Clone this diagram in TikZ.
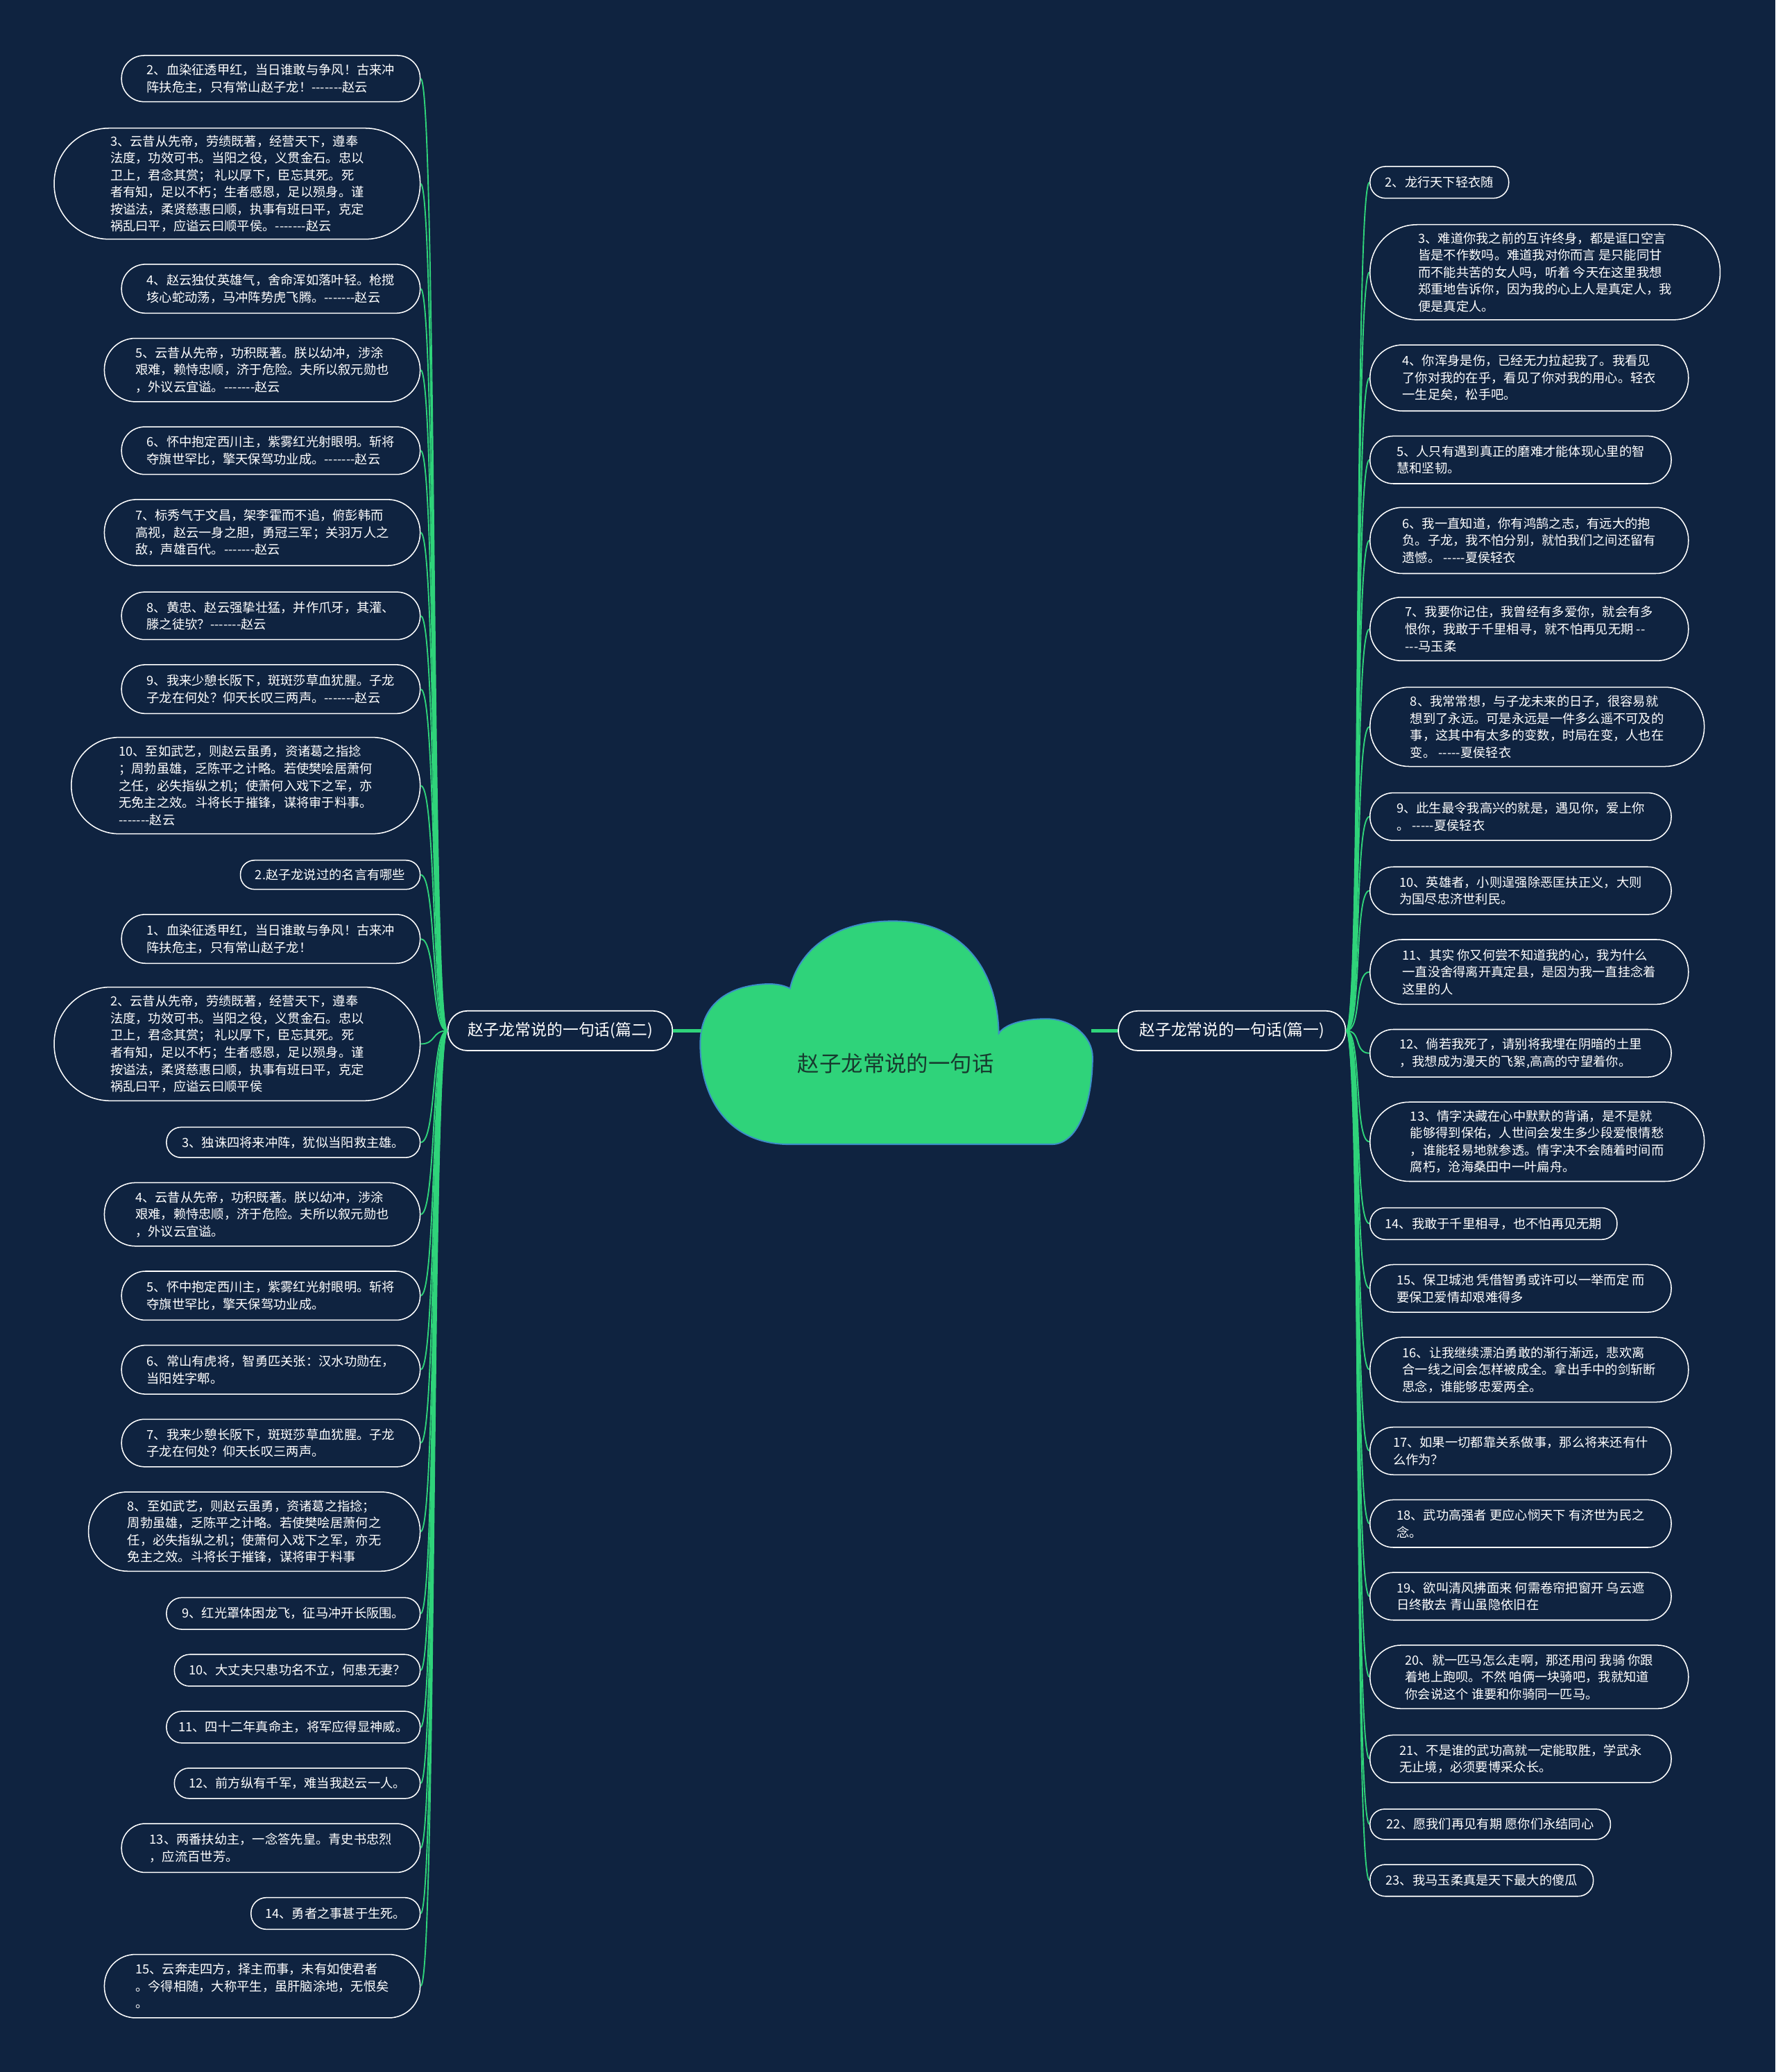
\documentclass[tikz,border=0pt]{standalone}
\usepackage{fontspec}
\newfontfamily\cjk{Noto Sans CJK SC}
\definecolor{bg}{HTML}{0F2340}
\definecolor{grn}{HTML}{2FD37A}
\definecolor{cloudline}{HTML}{3C8DC8}
\definecolor{titlec}{HTML}{173A2E}
\begin{document}
\begin{tikzpicture}[x=1pt,y=-1pt,
 leaf/.style={draw=white, line width=0.8pt, fill=bg, text=white, font=\cjk\fontsize{9.6}{12.9}\selectfont, align=left, inner sep=0pt},
 lf/.style 2 args={leaf, minimum width=#1pt, minimum height=#2pt, rounded corners=#2*0.5pt-0.4pt},
 branch/.style={draw=white, line width=0.9pt, fill=bg, text=white, font=\cjk\fontsize{12}{14}\selectfont, inner sep=0pt, minimum height=30pt, rounded corners=14.6pt},
 conn/.style={draw=grn, line width=1pt},
 trunk/.style={draw=grn, line width=2.5pt}]
\useasboundingbox (0,0) rectangle (1344,1568);
\fill[bg] (0,0) rectangle (1344,1568);

% central cloud
\filldraw[fill=grn, draw=cloudline, line width=1pt]
 (598,866) -- (796,866)
 .. controls (818,866) and (827,830) .. (827,800)
 .. controls (827,785) and (812,771) .. (792,771)
 .. controls (772,771) and (760,776) .. (756,782)
 .. controls (755,735) and (730,697) .. (676,697)
 .. controls (625,697) and (603,725) .. (598,748)
 .. controls (592,745) and (585,744) .. (575,745)
 .. controls (545,748) and (530,765) .. (530,790)
 .. controls (530,830) and (550,866) .. (598,866) -- cycle;
\node[font=\cjk\fontsize{16.5}{20}\selectfont, text=titlec] (root) at (678,805) {赵子龙常说的一句话};
\coordinate (cl) at (531,780);
\coordinate (cr) at (826,780);

% branch nodes
\node[branch, minimum width=170pt] (bl) at (424,780) {赵子龙常说的一句话(篇二)};
\node[branch, minimum width=172pt] (br) at (932.5,780) {赵子龙常说的一句话(篇一)};
\draw[trunk] (cl) -- (bl.east);
\draw[trunk] (cr) -- (br.west);

% left leaves
\node[lf={226}{35}] (l1) at (205,59.5) {2、血染征透甲红，当日谁敢与争风！古来冲\\阵扶危主，只有常山赵子龙！-------赵云};
\node[lf={277}{84}] (l2) at (179.5,139) {3、云昔从先帝，劳绩既著，经营天下，遵奉\\法度，功效可书。当阳之役，义贯金石。忠以\\卫上，君念其赏； 礼以厚下，臣忘其死。死\\者有知，足以不朽；生者感恩，足以殒身。谨\\按谥法，柔贤慈惠曰顺，执事有班曰平，克定\\祸乱曰平，应谥云曰顺平侯。-------赵云};
\node[lf={226}{37}] (l3) at (205,218.5) {4、赵云独仗英雄气，舍命浑如落叶轻。枪搅\\垓心蛇动荡，马冲阵势虎飞腾。-------赵云};
\node[lf={239}{48}] (l4) at (198.5,280) {5、云昔从先帝，功积既著。朕以幼冲，涉涂\\艰难，赖恃忠顺，济于危险。夫所以叙元勋也\\，外议云宜谥。-------赵云};
\node[lf={226}{36}] (l5) at (205,341) {6、怀中抱定西川主，紫雾红光射眼明。斩将\\夺旗世罕比，擎天保驾功业成。-------赵云};
\node[lf={239}{50}] (l6) at (198.5,403) {7、标秀气于文昌，架李霍而不追，俯彭韩而\\高视，赵云一身之胆，勇冠三军；关羽万人之\\敌，声雄百代。-------赵云};
\node[lf={226}{36}] (l7) at (205,466) {8、黄忠、赵云强挚壮猛，并作爪牙，其灌、\\滕之徒欤？-------赵云};
\node[lf={226}{37}] (l8) at (205,521.5) {9、我来少憩长阪下，斑斑莎草血犹腥。子龙\\子龙在何处？仰天长叹三两声。-------赵云};
\node[lf={264}{73}] (l9) at (186,594.5) {10、至如武艺，则赵云虽勇，资诸葛之指捻\\；周勃虽雄，乏陈平之计略。若使樊哙居萧何\\之任，必失指纵之机；使萧何入戏下之军，亦\\无免主之效。斗将长于摧锋，谋将审于料事。\\-------赵云};
\node[lf={136}{22}] (l10) at (250,662) {2.赵子龙说过的名言有哪些};
\node[lf={226}{37}] (l11) at (205,710.5) {1、血染征透甲红，当日谁敢与争风！古来冲\\阵扶危主，只有常山赵子龙！};
\node[lf={277}{86}] (l12) at (179.5,790) {2、云昔从先帝，劳绩既著，经营天下，遵奉\\法度，功效可书。当阳之役，义贯金石。忠以\\卫上，君念其赏； 礼以厚下，臣忘其死。死\\者有知，足以不朽；生者感恩，足以殒身。谨\\按谥法，柔贤慈惠曰顺，执事有班曰平，克定\\祸乱曰平，应谥云曰顺平侯};
\node[lf={192}{23}] (l13) at (222,864.5) {3、独诛四将来冲阵，犹似当阳救主雄。};
\node[lf={239}{48}] (l14) at (198.5,919) {4、云昔从先帝，功积既著。朕以幼冲，涉涂\\艰难，赖恃忠顺，济于危险。夫所以叙元勋也\\，外议云宜谥。};
\node[lf={226}{37}] (l15) at (205,980.5) {5、怀中抱定西川主，紫雾红光射眼明。斩将\\夺旗世罕比，擎天保驾功业成。};
\node[lf={226}{37}] (l16) at (205,1036.5) {6、常山有虎将，智勇匹关张：汉水功勋在，\\当阳姓字郫。};
\node[lf={226}{36}] (l17) at (205,1092) {7、我来少憩长阪下，斑斑莎草血犹腥。子龙\\子龙在何处？仰天长叹三两声。};
\node[lf={251}{60}] (l18) at (192.5,1159) {8、至如武艺，则赵云虽勇，资诸葛之指捻；\\周勃虽雄，乏陈平之计略。若使樊哙居萧何之\\任，必失指纵之机；使萧何入戏下之军，亦无\\免主之效。斗将长于摧锋，谋将审于料事};
\node[lf={192}{24}] (l19) at (222,1221) {9、红光罩体困龙飞，征马冲开长阪围。};
\node[lf={186}{24}] (l20) at (225,1264) {10、大丈夫只患功名不立，何患无妻？};
\node[lf={192}{24}] (l21) at (222,1307) {11、四十二年真命主，将军应得显神威。};
\node[lf={186}{23}] (l22) at (225,1349.5) {12、前方纵有千军，难当我赵云一人。};
\node[lf={226}{37}] (l23) at (205,1398.5) {13、两番扶幼主，一念答先皇。青史书忠烈\\，应流百世芳。};
\node[lf={128}{24}] (l24) at (254,1448) {14、勇者之事甚于生死。};
\node[lf={239}{48}] (l25) at (198.5,1503) {15、云奔走四方，择主而事，未有如使君者\\。今得相随，大称平生，虽肝脑涂地，无恨矣\\。};

% right leaves
\node[lf={105}{24}] (r1) at (1089.5,138) {2、龙行天下轻衣随};
\node[lf={265}{72}] (r2) at (1169.5,206) {3、难道你我之前的互许终身，都是诓口空言\\皆是不作数吗。难道我对你而言 是只能同甘\\而不能共苦的女人吗，听着 今天在这里我想\\郑重地告诉你，因为我的心上人是真定人，我\\便是真定人。};
\node[lf={241}{50}] (r3) at (1157.5,286) {4、你浑身是伤，已经无力拉起我了。我看见\\了你对我的在乎，看见了你对我的用心。轻衣\\一生足矣，松手吧。};
\node[lf={228}{36}] (r4) at (1151,348) {5、人只有遇到真正的磨难才能体现心里的智\\慧和坚韧。};
\node[lf={241}{50}] (r5) at (1157.5,409) {6、我一直知道，你有鸿鹄之志，有远大的抱\\负。子龙，我不怕分别，就怕我们之间还留有\\遗憾。 -----夏侯轻衣};
\node[lf={241}{48}] (r6) at (1157.5,476) {7、我要你记住，我曾经有多爱你，就会有多\\恨你，我敢于千里相寻，就不怕再见无期 --\\---马玉柔};
\node[lf={253}{60}] (r7) at (1163.5,550) {8、我常常想，与子龙未来的日子，很容易就\\想到了永远。可是永远是一件多么遥不可及的\\事，这其中有太多的变数，时局在变，人也在\\变。 -----夏侯轻衣};
\node[lf={228}{36}] (r8) at (1151,618) {9、此生最令我高兴的就是，遇见你，爱上你\\。 -----夏侯轻衣};
\node[lf={228}{36}] (r9) at (1151,674) {10、英雄者，小则逞强除恶匡扶正义，大则\\为国尽忠济世利民。};
\node[lf={241}{49}] (r10) at (1157.5,735.5) {11、其实 你又何尝不知道我的心，我为什么\\一直没舍得离开真定县，是因为我一直挂念着\\这里的人};
\node[lf={228}{36}] (r11) at (1151,797) {12、倘若我死了，请别将我埋在阴暗的土里\\，我想成为漫天的飞絮,高高的守望着你。};
\node[lf={253}{60}] (r12) at (1163.5,864) {13、情字决藏在心中默默的背诵，是不是就\\能够得到保佑，人世间会发生多少段爱恨情愁\\，谁能轻易地就参透。情字决不会随着时间而\\腐朽，沧海桑田中一叶扁舟。};
\node[lf={187}{24}] (r13) at (1130.5,926) {14、我敢于千里相寻，也不怕再见无期};
\node[lf={228}{36}] (r14) at (1151,975) {15、保卫城池 凭借智勇或许可以一举而定 而\\要保卫爱情却艰难得多};
\node[lf={241}{49}] (r15) at (1157.5,1036.5) {16、让我继续漂泊勇敢的渐行渐远，悲欢离\\合一线之间会怎样被成全。拿出手中的剑斩断\\思念，谁能够忠爱两全。};
\node[lf={228}{36}] (r16) at (1151,1098) {17、如果一切都靠关系做事，那么将来还有什\\么作为？};
\node[lf={228}{36}] (r17) at (1151,1153) {18、武功高强者 更应心悯天下 有济世为民之\\念。};
\node[lf={228}{36}] (r18) at (1151,1208) {19、欲叫清风拂面来 何需卷帘把窗开 乌云遮\\日终散去 青山虽隐依旧在};
\node[lf={241}{48}] (r19) at (1157.5,1269) {20、就一匹马怎么走啊，那还用问 我骑 你跟\\着地上跑呗。不然 咱俩一块骑吧，我就知道\\你会说这个 谁要和你骑同一匹马。};
\node[lf={228}{36}] (r20) at (1151,1331) {21、不是谁的武功高就一定能取胜，学武永\\无止境，必须要博采众长。};
\node[lf={182}{23}] (r21) at (1128,1380.5) {22、愿我们再见有期 愿你们永结同心};
\node[lf={169}{24}] (r22) at (1121.5,1423) {23、我马玉柔真是天下最大的傻瓜};

% connectors
\foreach \n in {l1,l2,l3,l4,l5,l6,l7,l8,l9,l10,l11,l12,l13,l14,l15,l16,l17,l18,l19,l20,l21,l22,l23,l24,l25}
  \draw[conn] (bl.west) .. controls +(-12,0) and +(12,0) .. (\n.east);
\foreach \n in {r1,r2,r3,r4,r5,r6,r7,r8,r9,r10,r11,r12,r13,r14,r15,r16,r17,r18,r19,r20,r21,r22}
  \draw[conn] (br.east) .. controls +(12,0) and +(-12,0) .. (\n.west);
\end{tikzpicture}
\end{document}
